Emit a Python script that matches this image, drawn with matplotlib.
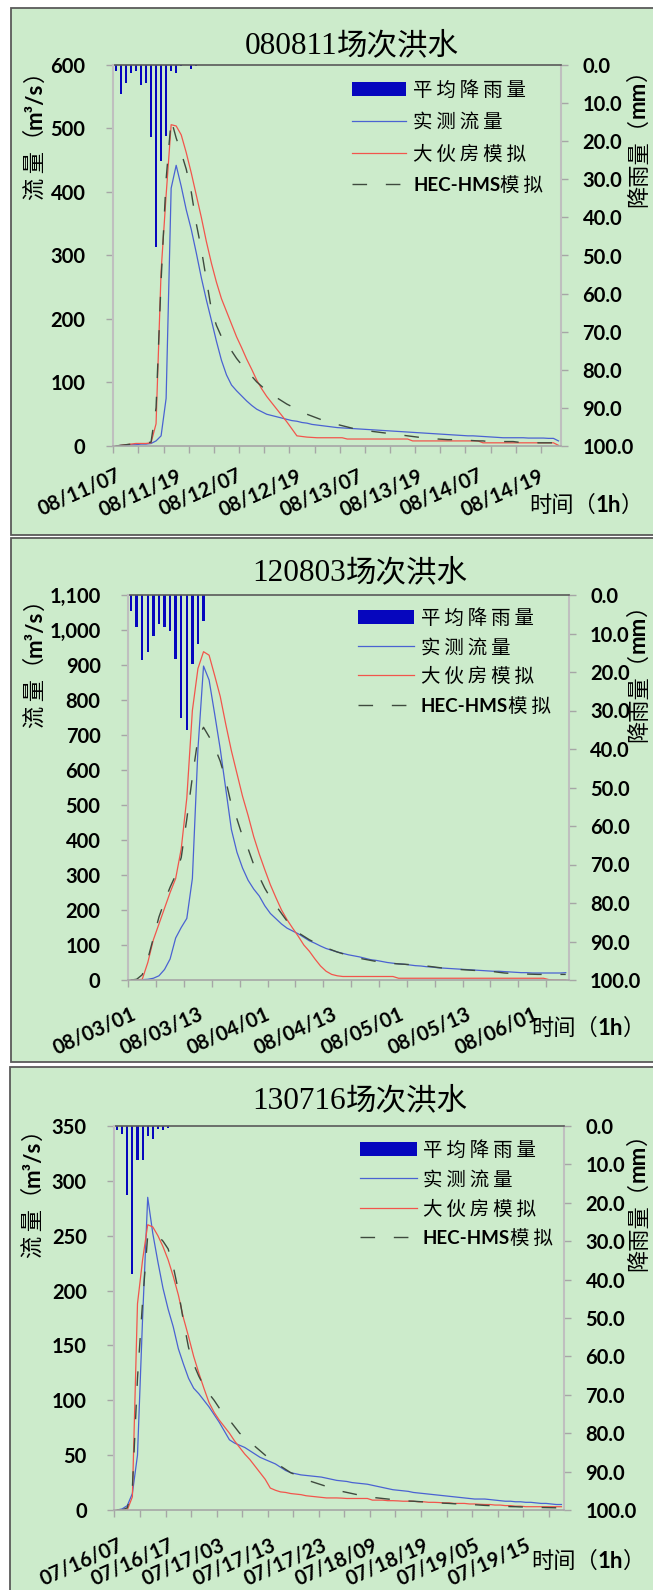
import numpy as np
import matplotlib
matplotlib.use('Agg')
import matplotlib.pyplot as plt
from matplotlib.patches import Rectangle
from matplotlib.lines import Line2D
from matplotlib.font_manager import FontProperties

# ------------------------------------------------------------------ data
title_codes = ['080811', '120803', '130716']
title_suffix = '场次洪水'
legend_labels = ['平均降雨量', '实测流量', '大伙房模拟', 'HEC-HMS模拟']

xl1 = ['08/11/07', '08/11/19', '08/12/07', '08/12/19', '08/13/07', '08/13/19', '08/14/07', '08/14/19']
xl2 = ['08/03/01', '08/03/13', '08/04/01', '08/04/13', '08/05/01', '08/05/13', '08/06/01']
xl3 = ['07/16/07', '07/16/17', '07/17/03', '07/17/13', '07/17/23', '07/18/09', '07/18/19', '07/19/05', '07/19/15']

rain1 = [1.6, 7.7, 4.6, 2.0, 1.6, 5.3, 4.6, 19.0, 47.8, 25.1, 18.6, 1.6, 2.0, 0.3, 0.0, 1.1, 0.3]
obs1 = [0, 1, 1, 2, 2, 3, 3, 4, 8, 16,
        75, 406, 442, 409, 372, 341, 304, 265, 230, 198,
        165, 135, 112, 96, 87, 79, 71, 64, 58, 54,
        50, 48, 46, 44, 42, 40, 39, 37, 36, 34,
        33, 32, 31, 30, 29, 28.5, 28, 27.5, 27, 26.5,
        26, 25.5, 25, 24.5, 24, 23.5, 23, 22.5, 22, 21.5,
        21, 20.5, 20, 19.5, 19, 18.5, 18, 17.5, 17, 16.5,
        16, 16, 15.5, 15, 14.5, 14, 13.5, 13, 13, 13,
        13, 13, 12.5, 12.5, 12.5, 12.5, 12, 12, 8]
dhf1 = [0, 1, 2, 3, 4, 4, 4, 5, 35, 275,
        395, 506, 504, 490, 462, 430, 395, 360, 322, 288,
        258, 232, 212, 192, 172, 155, 137, 121, 104, 90,
        78, 68, 58, 48, 38, 27, 16, 15, 14, 13.5,
        13, 13, 13, 13, 13, 13, 11, 11, 11, 11,
        11, 11, 11, 11, 11, 11, 11, 11, 11, 8,
        8, 8, 8, 8, 8, 8, 8, 8, 8, 8,
        8, 8, 8, 5, 5, 5, 5, 5, 5, 5,
        5, 5, 5, 5, 5, 5, 5, 5, 1]
hms1 = [0, 1, 2, 3, 4, 4, 5, 6, 60, 260,
        420, 514, 485, 462, 436, 400, 350, 310, 262, 215,
        190, 172, 160, 150, 138, 128, 118, 110, 101, 94,
        87, 81, 76, 71, 66, 62, 58, 54, 50, 47,
        44, 41, 38, 36, 34, 32, 30, 28, 27, 25,
        24, 23, 22, 21, 20, 19, 18, 17, 16, 15,
        14, 13, 12.5, 12, 11, 10.5, 10, 10, 9.5, 9,
        9, 8.5, 8, 8, 7, 7, 7, 7, 7, 7,
        6, 6, 6, 6, 5, 5, 5, 5, 5]

rain2 = [4.1, 8.4, 17.0, 14.8, 10.6, 7.6, 8.4, 9.3, 16.5, 32.0, 35.1, 17.8, 12.7, 6.7]
obs2 = [0, 0, 1, 2, 5, 12, 30, 60, 120, 150,
        176, 290, 660, 897, 857, 760, 660, 545, 430, 365,
        320, 285, 260, 240, 212, 190, 175, 160, 148, 140,
        132, 122, 112, 105, 97, 90, 85, 80, 76, 72,
        69, 66, 62, 58, 56, 53, 50, 48, 46, 45,
        43, 41, 40, 38, 37, 35, 34, 33, 32, 31,
        30, 29, 28, 27, 26, 25, 25, 24, 23, 22,
        21, 21, 20, 20, 20, 20, 20, 20, 21]
dhf2 = [0, 0, 2, 50, 115, 160, 205, 250, 290, 375,
        520, 770, 890, 938, 928, 870, 810, 730, 655, 590,
        525, 470, 410, 360, 315, 272, 235, 200, 172, 148,
        125, 100, 82, 60, 40, 25, 16, 12, 10, 10,
        10, 10, 10, 10, 10, 10, 10, 10, 5, 5,
        5, 5, 5, 5, 5, 5, 5, 5, 5, 5,
        5, 5, 5, 5, 5, 5, 5, 5, 5, 5,
        5, 5, 5, 5, 5, 1, 0, 0, 0]
hms2 = [0, 2, 15, 60, 120, 180, 225, 265, 300, 350,
        460, 580, 690, 722, 695, 665, 625, 570, 500, 460,
        410, 375, 330, 295, 262, 235, 212, 190, 168, 150,
        135, 125, 115, 107, 100, 92, 86, 80, 75, 70,
        66, 62, 59, 56, 53, 50, 49, 47, 46, 45,
        44, 43, 42, 40, 38, 36, 34, 33, 31, 30,
        29, 28, 27, 26, 25, 24, 22, 20, 19, 18,
        17.5, 17, 16.5, 16, 16, 16, 16, 16, 16]

rain3 = [1.1, 2.2, 18.0, 38.6, 8.8, 8.8, 2.7, 3.5, 0.7, 1.1, 0.5]
obs3 = [0, 1, 4, 15, 50, 175, 285, 252, 226, 202,
        183, 167, 147, 133, 120, 111, 106, 100, 94, 87,
        80, 72, 64, 61, 59, 57, 54, 51, 48, 46,
        44, 42, 39, 36, 34, 33, 32, 31.5, 31, 30.5,
        30, 29, 28, 27, 26.5, 26, 25, 24.5, 24, 23.5,
        22.5, 21.5, 20.5, 19.5, 18.5, 18, 17.5, 17, 16, 15.5,
        15, 14.5, 14, 13.5, 13, 12.5, 12, 11.5, 11, 10.5,
        10, 10, 10, 9.5, 9, 8.5, 8, 8, 7.5, 7.5,
        7, 7, 6.5, 6, 6, 5.5, 5, 5]
dhf3 = [0, 0, 0, 12, 188, 228, 260, 258, 250, 240,
        228, 213, 196, 175, 158, 140, 125, 111, 98, 89,
        82, 76, 70, 63, 57, 51, 46, 40, 34, 28,
        20, 18, 16.5, 16, 15, 14.5, 14, 13, 12.5, 12,
        11.5, 11, 11, 11, 10.8, 10.5, 10.5, 10.5, 10.5, 10.5,
        9, 9, 9, 8.5, 8.5, 8.3, 8, 8, 8, 7.5,
        7.5, 7, 7, 6.8, 6.5, 6.5, 6, 6, 6, 5.5,
        5.5, 5.2, 5, 5, 4.5, 4.5, 4, 4, 3.5, 3.5,
        3, 3, 3, 3, 3, 3, 3, 3]
hms3 = [0, 0, 2, 20, 120, 190, 250, 252, 250, 245,
        238, 222, 200, 172, 148, 133, 122, 113, 106, 100,
        93, 87, 82, 76, 70, 66, 62, 58, 54, 50,
        46, 43, 40, 37, 34, 32, 30, 28, 26, 24.5,
        23, 21.5, 20, 18.5, 17, 16, 15, 14, 13, 12,
        11.5, 11, 10.5, 10, 9.5, 9, 8.5, 8.2, 8, 7.7,
        7.4, 7.2, 7, 6.5, 6.2, 6, 5.7, 5.5, 5.2, 5,
        4.8, 4.5, 4.2, 4, 3.8, 3.5, 3.3, 3.1, 3, 2.8,
        2.7, 2.5, 2.4, 2.3, 2.2, 2.1, 2, 2]

flow_max = [600, 1100, 350]
flow_step = [100, 100, 50]
label_every = [12, 12, 10]

# ------------------------------------------------------------------ style / layout
W, H = 653, 1590
BG = '#CCEBCB'
BORDER = '#5A5A5A'
BAR_C = '#0606BE'
BLUE = '#4A62D2'
RED = '#F2554C'
DASH_C = '#3E4A3E'
DASH = (0, (10.5, 13.5))

plt.rcParams['font.family'] = ['Lato', 'DejaVu Sans']
plt.rcParams['font.weight'] = 'bold'

layout = [
    dict(box=(11, 8, 670, 535), ax=(113.3, 65, 561, 446), title=(352, 54), xpad=14,
         leg=(352, 406, 413, [89, 120.5, 152.5, 184]), ylab=(41.5, 200), rlab=(645, 207), xlab=(529, 512)),
    dict(box=(11, 538, 670, 1062), ax=(128.3, 595, 568.5, 980), title=(360, 581), xpad=17,
         leg=(358, 414, 421, [617, 646, 675, 704.5]), ylab=(41.5, 728), rlab=(645, 742), xlab=(531, 1035)),
    dict(box=(10, 1067, 670, 1600), ax=(114.5, 1126, 564, 1510), title=(360, 1109), xpad=18,
         leg=(360, 417, 423, [1148.5, 1178, 1207.5, 1237]), ylab=(40, 1258), rlab=(645, 1271), xlab=(531, 1568)),
]

series = [(obs1, dhf1, hms1, rain1, xl1),
          (obs2, dhf2, hms2, rain2, xl2),
          (obs3, dhf3, hms3, rain3, xl3)]

fig = plt.figure(figsize=(W / 100, H / 100), dpi=100)
renderer = fig.canvas.get_renderer()

CJK = ['Noto Sans CJK SC', 'DejaVu Sans']
fp_leg = FontProperties(family=CJK, size=14, weight='normal')
fp_leg_lat = FontProperties(family='Lato', size=13.5, weight='bold')
fp_lab = FontProperties(family=CJK, size=16, weight='normal')
fp_lab_lat = FontProperties(family='Lato', size=16, weight='bold')
fp_title_num = FontProperties(family=['Liberation Serif', 'DejaVu Serif'], size=22.5, weight='normal')
fp_title_cjk = FontProperties(family=CJK, size=22, weight='normal')


def piece_width(s, fp):
    t = fig.text(0, 0, s, fontproperties=fp)
    w = t.get_window_extent(renderer).width
    t.remove()
    return w


def draw_seq(x, y, pieces, rot=0):
    off = 0.0
    for s, fp in pieces:
        if rot == 0:
            px, py = x + off, y
        else:
            px, py = x, y - off
        fig.text(px / W, 1 - py / H, s, fontproperties=fp, rotation=rot,
                 rotation_mode='anchor', ha='left', va='baseline', color='black')
        off += piece_width(s, fp)
    return off


def spaced(s):
    return '\u2009'.join(s)


for k in range(3):
    L = layout[k]
    obs, dhf, hms, rain, xl = series[k]
    N = len(obs)

    # panel background
    bx0, by0, bx1, by1 = L['box']
    fig.add_artist(Rectangle((bx0 / W, 1 - by1 / H), (bx1 - bx0) / W, (by1 - by0) / H,
                             transform=fig.transFigure, facecolor=BG, edgecolor=BORDER,
                             linewidth=1.3, zorder=0))

    l, t, r, b = L['ax']
    ax = fig.add_axes([l / W, 1 - b / H, (r - l) / W, (b - t) / H])
    ax2 = ax.twinx()
    ax.set_zorder(ax2.get_zorder() + 1)
    ax.patch.set_visible(False)
    ax2.patch.set_visible(False)

    x = np.arange(N) + 0.5
    xr = np.arange(len(rain)) + 0.5
    ax2.bar(xr, rain, width=0.42, color=BAR_C, linewidth=0)
    ax2.set_ylim(100, 0)

    ax.plot(x, obs, color=BLUE, lw=0.9)
    ax.plot(x, dhf, color=RED, lw=0.9)
    ax.plot(x, hms, color=DASH_C, lw=1.0, linestyle=DASH)
    ax.set_xlim(0, N)
    ax.set_ylim(0, flow_max[k])

    # spines
    for s in ['top', 'right']:
        ax.spines[s].set_visible(False)
    ax.spines['left'].set_color('#BFBFBF')
    ax.spines['left'].set_linewidth(1.5)
    ax.spines['bottom'].set_color('#A6A6A6')
    ax.spines['bottom'].set_linewidth(1.2)
    for s in ['left', 'bottom']:
        ax2.spines[s].set_visible(False)
    ax2.spines['right'].set_color('#BFBFBF')
    ax2.spines['right'].set_linewidth(1.5)
    ax2.spines['top'].set_color('#595959')
    ax2.spines['top'].set_linewidth(1.2)

    # left ticks
    yt = np.arange(0, flow_max[k] + 1, flow_step[k])
    ax.set_yticks(yt)
    ax.set_yticklabels([f'{v:,}' for v in yt])
    ax.tick_params(axis='y', which='major', direction='out', length=5, width=1,
                   color='#A6A6A6', pad=15, labelsize=14.5)

    # right ticks
    rt = np.arange(0, 101, 10)
    ax2.set_yticks(rt)
    ax2.set_yticklabels([f'{v:.1f}' for v in rt])
    ax2.tick_params(axis='y', which='major', direction='out', length=5, width=1,
                    color='#A6A6A6', pad=10.5, labelsize=14.5)

    # x ticks
    step = label_every[k]
    ax.set_xticks(np.arange(len(xl)) * step + 0.5)
    ax.set_xticklabels(xl)
    ax.set_xticks(np.arange(0, N + 1, 5), minor=True)
    ax.tick_params(axis='x', which='major', length=0, pad=L['xpad'], labelsize=14.5)
    ax.tick_params(axis='x', which='minor', direction='out', length=5, width=1, color='#A6A6A6')
    for lab in ax.get_xticklabels():
        lab.set_rotation(24)
        lab.set_ha('right')
        lab.set_va('top')
        lab.set_rotation_mode('anchor')

    # title
    cx, tb = L['title']
    pieces = [(title_codes[k], fp_title_num), (title_suffix, fp_title_cjk)]
    tw = sum(piece_width(s, fp) for s, fp in pieces)
    draw_seq(cx - tw / 2, tb, pieces)

    # legend (manual)
    hx0, hx1, tx, rows = L['leg']
    fig.add_artist(Rectangle((hx0 / W, 1 - (rows[0] + 7) / H), (hx1 - hx0) / W, 14 / H,
                             transform=fig.transFigure, facecolor=BAR_C, edgecolor='none'))
    for yy, c, ls, lw in [(rows[1], BLUE, '-', 0.9), (rows[2], RED, '-', 0.9), (rows[3], DASH_C, DASH, 1.0)]:
        fig.add_artist(Line2D([hx0 / W, hx1 / W], [1 - yy / H, 1 - yy / H], transform=fig.transFigure,
                              color=c, linestyle=ls, lw=lw))
    em = 14 * 100 / 72
    for j in range(3):
        draw_seq(tx, rows[j] + 0.38 * em, [(spaced(legend_labels[j]), fp_leg)])
    draw_seq(tx, rows[3] + 0.38 * em, [('HEC-HMS', fp_leg_lat), (spaced('模拟'), fp_leg)])

    # axis titles
    yx, yb = L['ylab']
    draw_seq(yx, yb, [('流\u2009量（', fp_lab), ('m³/s', fp_lab_lat), ('）', fp_lab)], rot=90)
    rx, rb = L['rlab']
    draw_seq(rx, rb, [('降雨量（', fp_lab), ('mm', fp_lab_lat), ('）', fp_lab)], rot=90)
    xx, xb = L['xlab']
    draw_seq(xx, xb, [('时间（', fp_lab), ('1h', fp_lab_lat), ('）', fp_lab)])

fig.savefig('out.png', dpi=100, facecolor='white')
